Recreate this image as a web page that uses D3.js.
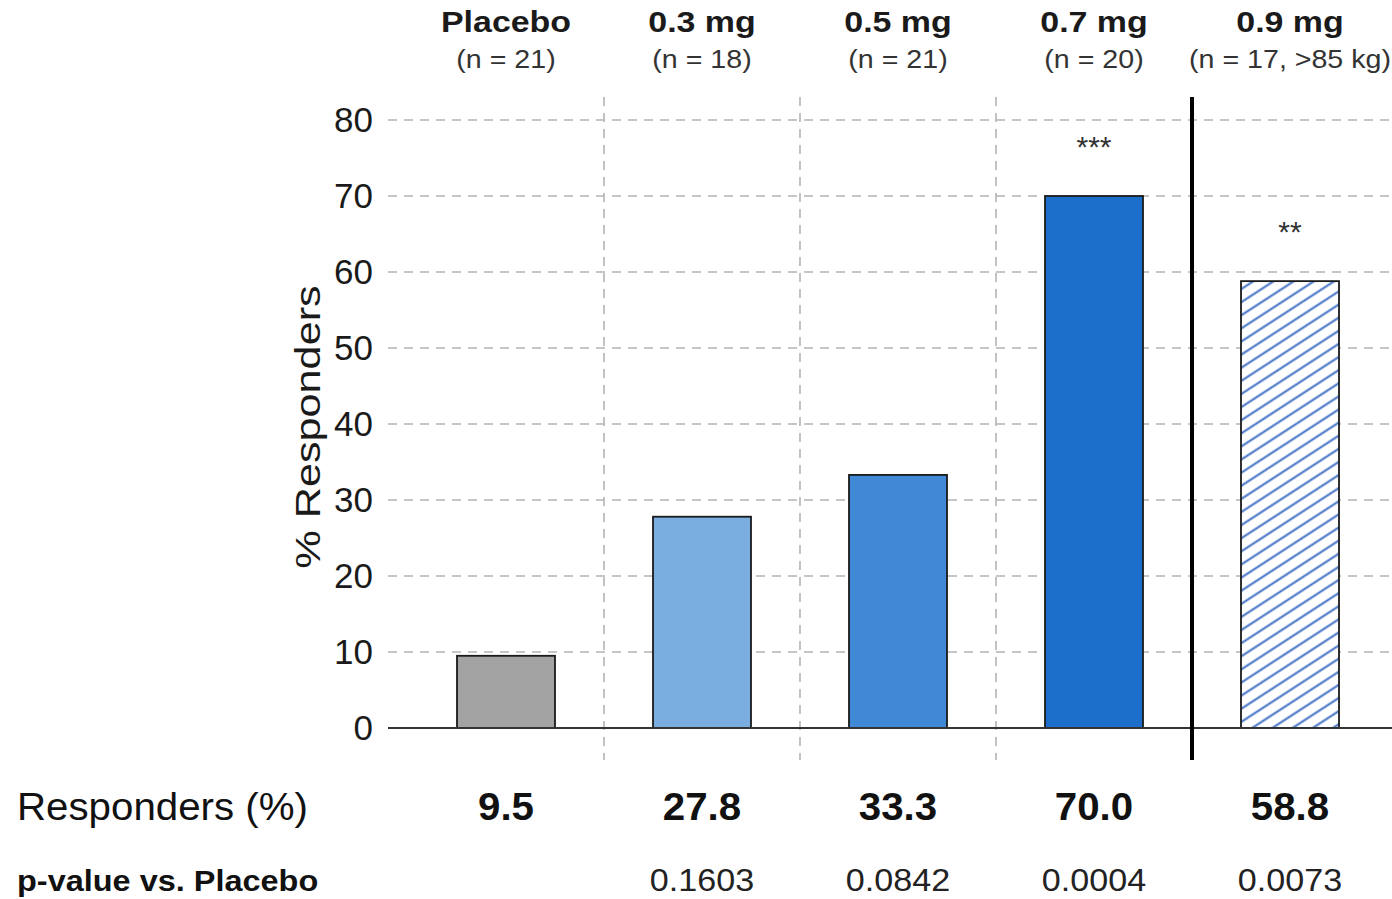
<!DOCTYPE html>
<html>
<head>
<meta charset="utf-8">
<script src="https://cdn.jsdelivr.net/npm/d3@7"></script>
<style>
  body { margin: 0; background: white; }
  text { font-family: "Liberation Sans", Arial, sans-serif; }
</style>
</head>
<body>
<div id="container"></div>
<script>
let w = 1392;
let h = 899;

// data
let groups = ["Placebo", "0.3 mg", "0.5 mg", "0.7 mg", "0.9 mg"];
let nLabels = ["(n = 21)", "(n = 18)", "(n = 21)", "(n = 20)", "(n = 17, >85 kg)"];
let responders = [9.5, 27.8, 33.3, 70.0, 58.8];
let pValues = ["", "0.1603", "0.0842", "0.0004", "0.0073"];
let stars = ["", "", "", "***", "**"];
let colors = ["#a3a3a3", "#7aaee0", "#3f89d6", "#1b6fca", "url(#hatch)"];
let yTicks = [0, 10, 20, 30, 40, 50, 60, 70, 80];

let viz = d3.select("#container").append("svg")
    .attr("width", w)
    .attr("height", h)
    .style("background-color", "white");

// hatch pattern for the last bar
let pat = viz.append("defs").append("pattern")
    .attr("id", "hatch")
    .attr("patternUnits", "userSpaceOnUse")
    .attr("width", 11).attr("height", 11)
    .attr("patternTransform", "rotate(-33)");
pat.append("rect").attr("width", 11).attr("height", 11).attr("fill", "white");
pat.append("line")
    .attr("x1", 0).attr("y1", 5.5).attr("x2", 11).attr("y2", 5.5)
    .attr("stroke", "#3f6fc4").attr("stroke-width", 2);

let x = d3.scaleBand().domain(groups).range([408, 1388]).padding(0);
let y = d3.scaleLinear().domain([0, 80]).range([728, 120]);
let barW = x.bandwidth() * 0.5;
let cx = d => x(d) + x.bandwidth() / 2;

// text that is a bit wider than the font, like the picture
function wideText(sel, sx) {
  return sel.attr("transform", function(d, i) {
    let tx = +this.getAttribute("data-x"), ty = +this.getAttribute("data-y");
    return "translate(" + tx + "," + ty + ") scale(" + sx + ",1)";
  });
}

// horizontal grid
viz.selectAll(".hgrid").data(yTicks.filter(d => d > 0)).enter()
  .append("line")
    .attr("class", "hgrid")
    .attr("x1", 388).attr("x2", w)
    .attr("y1", d => y(d)).attr("y2", d => y(d))
    .attr("stroke", "#b4b4b4")
    .attr("stroke-width", 1.6)
    .attr("stroke-dasharray", "9,7");

// vertical separators
viz.selectAll(".vgrid").data(groups.slice(1, 4)).enter()
  .append("line")
    .attr("class", "vgrid")
    .attr("x1", d => x(d)).attr("x2", d => x(d))
    .attr("y1", 97).attr("y2", 760)
    .attr("stroke", "#b4b4b4")
    .attr("stroke-width", 1.6)
    .attr("stroke-dasharray", "9,7");

// y axis
let yAxis = d3.axisLeft(y).tickValues(yTicks).tickSize(0).tickPadding(15);
let yg = viz.append("g").attr("transform", "translate(388,0)").call(yAxis);
yg.select(".domain").remove();
yg.selectAll("text")
    .attr("font-size", 35)
    .attr("fill", "#1a1a1a")
    .style("font-family", "'Liberation Sans', Arial, sans-serif");

viz.append("text")
    .attr("transform", "translate(320,427) rotate(-90) scale(1.2,1)")
    .attr("text-anchor", "middle")
    .attr("font-size", 36)
    .attr("fill", "#1a1a1a")
    .text("% Responders");

// bars
viz.selectAll(".bar").data(groups).enter()
  .append("rect")
    .attr("class", "bar")
    .attr("x", d => cx(d) - barW / 2)
    .attr("width", barW)
    .attr("y", (d, i) => y(responders[i]))
    .attr("height", (d, i) => y(0) - y(responders[i]))
    .attr("fill", (d, i) => colors[i])
    .attr("stroke", "#1a1a1a")
    .attr("stroke-width", 1.8);

// baseline
viz.append("line")
    .attr("x1", 388).attr("x2", w)
    .attr("y1", y(0)).attr("y2", y(0))
    .attr("stroke", "#333")
    .attr("stroke-width", 1.8);

// solid divider before the last group
viz.append("line")
    .attr("x1", x(groups[4])).attr("x2", x(groups[4]))
    .attr("y1", 97).attr("y2", 760)
    .attr("stroke", "black")
    .attr("stroke-width", 4);

// significance stars
viz.selectAll(".star").data(groups).enter()
  .append("text")
    .attr("class", "star")
    .attr("x", d => cx(d))
    .attr("y", (d, i) => y(responders[i]) - 39)
    .attr("text-anchor", "middle")
    .attr("font-size", 30)
    .attr("fill", "#333")
    .text((d, i) => stars[i]);

// header labels
viz.selectAll(".head").data(groups).enter()
  .append("text")
    .attr("class", "head")
    .attr("data-x", d => cx(d)).attr("data-y", 32)
    .attr("text-anchor", "middle")
    .attr("font-size", 29)
    .attr("font-weight", "bold")
    .attr("fill", "#1a1a1a")
    .text(d => d)
    .call(wideText, 1.17);

viz.selectAll(".nlab").data(groups).enter()
  .append("text")
    .attr("class", "nlab")
    .attr("data-x", d => cx(d)).attr("data-y", 68)
    .attr("text-anchor", "middle")
    .attr("font-size", 26)
    .attr("fill", "#333")
    .text((d, i) => nLabels[i])
    .call(wideText, 1.1);

// bottom table
viz.append("text")
    .attr("data-x", 17).attr("data-y", 820)
    .attr("font-size", 38)
    .attr("fill", "#111")
    .text("Responders (%)")
    .call(wideText, 1.06);

viz.selectAll(".resp").data(groups).enter()
  .append("text")
    .attr("class", "resp")
    .attr("data-x", d => cx(d)).attr("data-y", 820)
    .attr("text-anchor", "middle")
    .attr("font-size", 38)
    .attr("font-weight", "bold")
    .attr("fill", "#111")
    .text((d, i) => responders[i].toFixed(1))
    .call(wideText, 1.06);

viz.append("text")
    .attr("data-x", 17).attr("data-y", 891)
    .attr("font-size", 29)
    .attr("font-weight", "bold")
    .attr("fill", "#111")
    .text("p-value vs. Placebo")
    .call(wideText, 1.12);

viz.selectAll(".pval").data(groups).enter()
  .append("text")
    .attr("class", "pval")
    .attr("data-x", d => cx(d)).attr("data-y", 891)
    .attr("text-anchor", "middle")
    .attr("font-size", 31)
    .attr("fill", "#222")
    .text((d, i) => pValues[i])
    .call(wideText, 1.1);
</script>
</body>
</html>
